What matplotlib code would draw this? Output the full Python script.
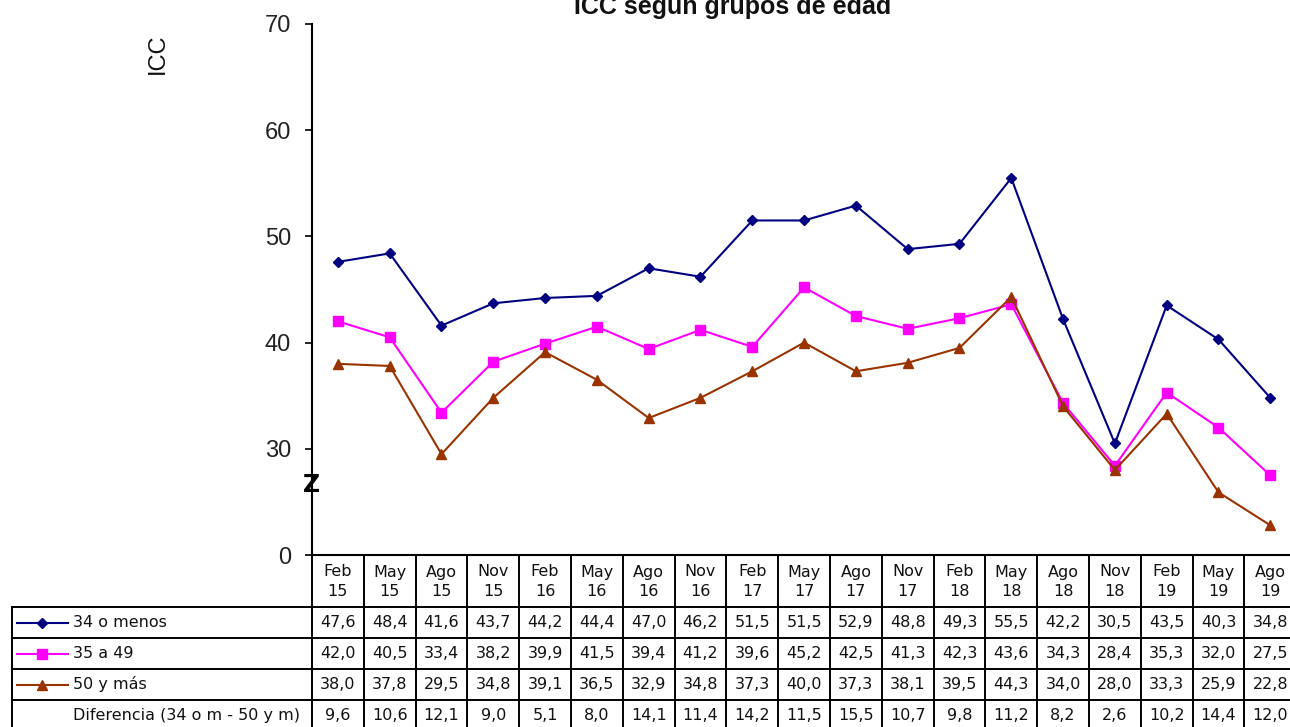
import matplotlib
matplotlib.use("Agg")
import matplotlib.pyplot as plt
from matplotlib.lines import Line2D
from matplotlib.transforms import blended_transform_factory

# ---------------- data ----------------
months = ["Feb", "May", "Ago", "Nov", "Feb", "May", "Ago", "Nov", "Feb", "May",
          "Ago", "Nov", "Feb", "May", "Ago", "Nov", "Feb", "May", "Ago"]
years = ["15", "15", "15", "15", "16", "16", "16", "16", "17", "17",
         "17", "17", "18", "18", "18", "18", "19", "19", "19"]
menos34 = [47.6, 48.4, 41.6, 43.7, 44.2, 44.4, 47.0, 46.2, 51.5, 51.5,
           52.9, 48.8, 49.3, 55.5, 42.2, 30.5, 43.5, 40.3, 34.8]
a35_49 = [42.0, 40.5, 33.4, 38.2, 39.9, 41.5, 39.4, 41.2, 39.6, 45.2,
          42.5, 41.3, 42.3, 43.6, 34.3, 28.4, 35.3, 32.0, 27.5]
mas50 = [38.0, 37.8, 29.5, 34.8, 39.1, 36.5, 32.9, 34.8, 37.3, 40.0,
         37.3, 38.1, 39.5, 44.3, 34.0, 28.0, 33.3, 25.9, 22.8]
diferencia = [9.6, 10.6, 12.1, 9.0, 5.1, 8.0, 14.1, 11.4, 14.2, 11.5,
              15.5, 10.7, 9.8, 11.2, 8.2, 2.6, 10.2, 14.4, 12.0]
series_names = ["34 o menos", "35 a 49", "50 y más"]
diff_name = "Diferencia (34 o m - 50 y m)"
ytick_vals = [20, 30, 40, 50, 60, 70]
ytick_labels = ["0", "30", "40", "50", "60", "70"]
title = "ICC según grupos de edad"
ylabel = "ICC"

# ---------------- styles ----------------
W, H = 1290, 727
colors = ["#000080", "#FF00FF", "#993300"]
markers = ["D", "s", "^"]
msizes = [5, 7.5, 7]

fig = plt.figure(figsize=(W / 100, H / 100), dpi=100)


def fx(p):
    return p / W


def fy(p):
    return 1 - p / H


n = len(months)
col_w = 51.8
ax_left, ax_top, ax_bot = 312, 24, 555
ax_right = ax_left + n * col_w
ax = fig.add_axes([fx(ax_left), fy(ax_bot), fx(ax_right - ax_left), (ax_bot - ax_top) / H])
ax.set_xlim(-0.5, n - 0.5)
ax.set_ylim(20, 70)

xs = list(range(n))
all_series = [menos34, a35_49, mas50]
for vals, c, m, ms in zip(all_series, colors, markers, msizes):
    ax.plot(xs, vals, color=c, marker=m, markersize=ms, linewidth=1.5,
            markerfacecolor=c, markeredgecolor=c, clip_on=False, zorder=3)

for s in ["top", "right"]:
    ax.spines[s].set_visible(False)
ax.spines["left"].set_linewidth(1.5)
ax.spines["bottom"].set_linewidth(1.5)
ax.set_xticks([])
ax.set_yticks(ytick_vals)
ax.set_yticklabels(ytick_labels, fontsize=17, color="#222222", family="Liberation Sans")
ax.tick_params(axis="y", length=5, width=1.2, pad=10)

# axis break symbol
ax.text(-0.5, 26.6, "Z", ha="center", va="center", fontsize=17, fontweight="bold",
        family="DejaVu Sans", color="black", zorder=5, clip_on=False)

# title and y-label
fig.text(fx(733), fy(14), title, ha="center", va="baseline", fontsize=18,
         fontweight="bold", family="Liberation Sans", color="#111111")
fig.text(fx(158), fy(54), ylabel, ha="center", va="center", rotation=90,
         fontsize=17, family="Liberation Sans", color="#111111")

# ---------------- data table ----------------
trans = blended_transform_factory(ax.transData, fig.transFigure)
tfont = dict(family="DejaVu Sans", fontsize=11.5, color="#111111")
row_y = [555, 607, 638, 669, 700, 731]
lw_t = 1.4

# header texts
for i in range(n):
    ax.text(i, fy(572), months[i], ha="center", va="center", transform=trans,
            clip_on=False, **tfont)
    ax.text(i, fy(592), years[i], ha="center", va="center", transform=trans,
            clip_on=False, **tfont)

# vertical lines between columns
for k in range(n + 1):
    ax.add_line(Line2D([k - 0.5, k - 0.5], [fy(row_y[0]), fy(row_y[-1])],
                       transform=trans, color="black", linewidth=lw_t, clip_on=False))
# horizontal lines
for yp in row_y[1:]:
    fig.add_artist(Line2D([fx(12), fx(ax_right)], [fy(yp), fy(yp)],
                          color="black", linewidth=lw_t))
fig.add_artist(Line2D([fx(12), fx(12)], [fy(row_y[1]), fy(row_y[-1])],
                      color="black", linewidth=lw_t))

# rows
rows = [menos34, a35_49, mas50, diferencia]
names = series_names + [diff_name]
for r, (vals, name) in enumerate(zip(rows, names)):
    yc = (row_y[r + 1] + row_y[r + 2]) / 2
    for i, v in enumerate(vals):
        ax.text(i, fy(yc), f"{v:.1f}".replace(".", ","), ha="center", va="center",
                transform=trans, clip_on=False, **tfont)
    fig.text(fx(73), fy(yc), name, ha="left", va="center", **tfont)
    if r < 3:
        fig.add_artist(Line2D([fx(17), fx(68)], [fy(yc), fy(yc)], color=colors[r],
                              linewidth=1.5, marker=None))
        fig.add_artist(Line2D([fx(42)], [fy(yc)], color=colors[r], marker=markers[r],
                              markersize=msizes[r], linestyle="none",
                              markerfacecolor=colors[r], markeredgecolor=colors[r]))

fig.savefig("out.png", dpi=100)
